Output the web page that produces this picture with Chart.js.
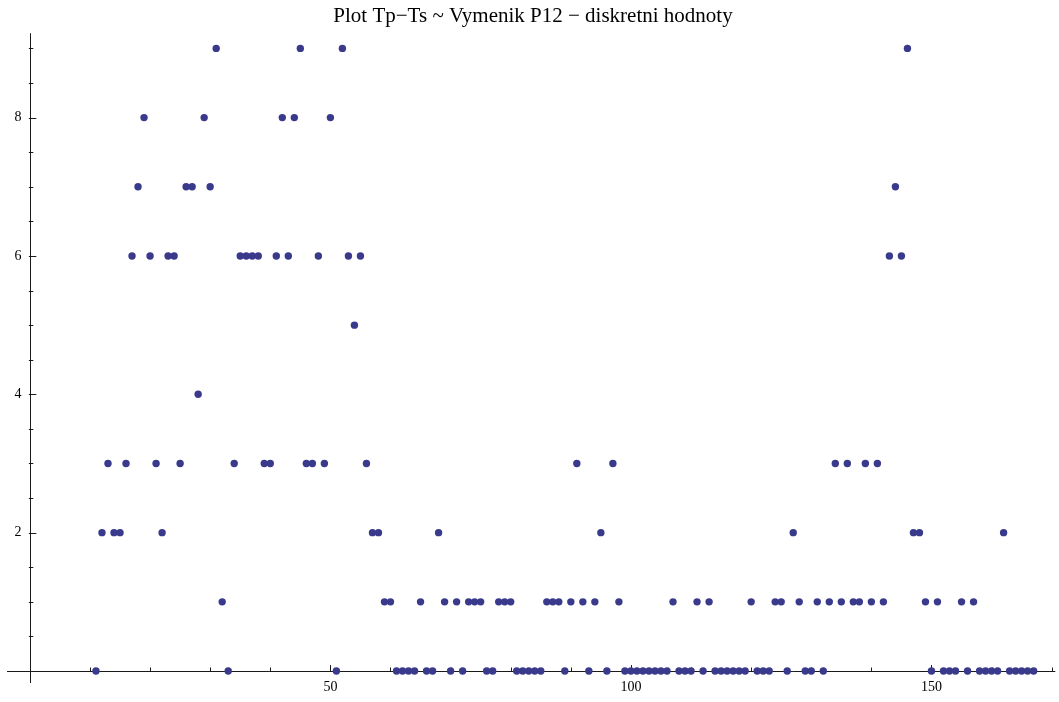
<!DOCTYPE html>
<html>
<head>
<meta charset="utf-8">
<script src="https://cdn.jsdelivr.net/npm/chart.js@4/dist/chart.umd.min.js"></script>
<style>
  html, body { margin: 0; padding: 0; background: #ffffff; }
  #wrap { width: 1059px; height: 702px; }
</style>
</head>
<body>
<div id="wrap"><canvas id="plot" width="1059" height="702"></canvas></div>
<script>
// Sample number (x) and measured Tp−Ts difference (y), one value per sample
const sampleIndex = [
  11, 12, 13, 14, 15, 16, 17, 18, 19, 20, 21, 22, 23, 24, 25, 26, 27, 28, 29, 30,
  31, 32, 33, 34, 35, 36, 37, 38, 39, 40, 41, 42, 43, 44, 45, 46, 47, 48, 49, 50,
  51, 52, 53, 54, 55, 56, 57, 58, 59, 60, 61, 62, 63, 64, 65, 66, 67, 68, 69, 70,
  71, 72, 73, 74, 75, 76, 77, 78, 79, 80, 81, 82, 83, 84, 85, 86, 87, 88, 89, 90,
  91, 92, 93, 94, 95, 96, 97, 98, 99, 100, 101, 102, 103, 104, 105, 106, 107, 108, 109, 110,
  111, 112, 113, 114, 115, 116, 117, 118, 119, 120, 121, 122, 123, 124, 125, 126, 127, 128, 129, 130,
  131, 132, 133, 134, 135, 136, 137, 138, 139, 140, 141, 142, 143, 144, 145, 146, 147, 148, 149, 150,
  151, 152, 153, 154, 155, 156, 157, 158, 159, 160, 161, 162, 163, 164, 165, 166, 167
];
const tpMinusTs = [
  0, 2, 3, 2, 2, 3, 6, 7, 8, 6, 3, 2, 6, 6, 3, 7, 7, 4, 8, 7,
  9, 1, 0, 3, 6, 6, 6, 6, 3, 3, 6, 8, 6, 8, 9, 3, 3, 6, 3, 8,
  0, 9, 6, 5, 6, 3, 2, 2, 1, 1, 0, 0, 0, 0, 1, 0, 0, 2, 1, 0,
  1, 0, 1, 1, 1, 0, 0, 1, 1, 1, 0, 0, 0, 0, 0, 1, 1, 1, 0, 1,
  3, 1, 0, 1, 2, 0, 3, 1, 0, 0, 0, 0, 0, 0, 0, 0, 1, 0, 0, 0,
  1, 0, 1, 0, 0, 0, 0, 0, 0, 1, 0, 0, 0, 1, 1, 0, 2, 1, 0, 0,
  1, 0, 1, 3, 1, 3, 1, 1, 3, 1, 3, 1, 6, 7, 6, 9, 2, 2, 1, 0,
  1, 0, 0, 0, 1, 0, 1, 0, 0, 0, 0, 2, 0, 0, 0, 0, 0
];

// Labelled ticks and the finer unlabelled tick marks on each axis
const xTickLabels = [50, 100, 150];
const yTickLabels = [2, 4, 6, 8];
const xMinorTicks = [10, 20, 30, 40, 60, 70, 80, 90, 110, 120, 130, 140, 160, 170];
const yMinorTicks = [0.5, 1, 1.5, 2.5, 3, 3.5, 4.5, 5, 5.5, 6.5, 7, 7.5, 8.5, 9];

const plotTitle = 'Plot Tp\u2212Ts ~ Vymenik P12 \u2212 diskretni hodnoty';

const points = sampleIndex.map((x, i) => ({ x: x, y: tpMinusTs[i] }));

// Axes crossing at the origin, with tick marks pointing into the plot
const originAxes = {
  id: 'originAxes',
  beforeDatasetsDraw(chart) {
    const { ctx, chartArea: a, scales: { x, y } } = chart;
    const x0 = x.getPixelForValue(0);
    const y0 = y.getPixelForValue(0);
    ctx.save();
    ctx.strokeStyle = '#1a1a1a';
    ctx.lineWidth = 1;
    ctx.beginPath();
    ctx.moveTo(a.left, Math.round(y0) + 0.5);
    ctx.lineTo(a.right, Math.round(y0) + 0.5);
    ctx.moveTo(Math.round(x0) + 0.5, a.top);
    ctx.lineTo(Math.round(x0) + 0.5, a.bottom);
    const xTick = (v, len) => {
      const px = Math.round(x.getPixelForValue(v)) + 0.5;
      ctx.moveTo(px, y0);
      ctx.lineTo(px, y0 - len);
    };
    const yTick = (v, len) => {
      const py = Math.round(y.getPixelForValue(v)) + 0.5;
      ctx.moveTo(x0 - 1, py);
      ctx.lineTo(x0 + len, py);
    };
    xMinorTicks.forEach(v => xTick(v, 3.5));
    xTickLabels.forEach(v => xTick(v, 6));
    yMinorTicks.forEach(v => yTick(v, 3.5));
    yTickLabels.forEach(v => yTick(v, 6.5));
    ctx.stroke();
    ctx.restore();
  }
};

new Chart(document.getElementById('plot'), {
  type: 'scatter',
  data: {
    datasets: [{
      data: points,
      pointRadius: 3.7,
      pointHoverRadius: 3.7,
      pointBackgroundColor: '#3a3a8c',
      pointBorderColor: '#3a3a8c',
      pointBorderWidth: 0
    }]
  },
  options: {
    responsive: false,
    animation: false,
    layout: { padding: { left: 7, right: 0, top: 0, bottom: 19 } },
    plugins: {
      legend: { display: false },
      tooltip: { enabled: false },
      title: {
        display: true,
        text: plotTitle,
        color: '#000000',
        font: { family: 'Liberation Serif', size: 21, weight: 'normal' },
        padding: { top: 4, bottom: 4 }
      }
    },
    scales: {
      x: {
        type: 'linear',
        position: { y: 0 },
        min: -3.8,
        max: 170.6,
        grid: { display: false, drawTicks: false },
        border: { display: false },
        afterBuildTicks: s => { s.ticks = xTickLabels.map(v => ({ value: v })); },
        ticks: {
          padding: 8,
          color: '#000000',
          font: { family: 'Liberation Serif', size: 14 },
          maxRotation: 0,
          autoSkip: false
        }
      },
      y: {
        type: 'linear',
        // labels sit a little to the left of the vertical axis line
        position: { x: -1.4 },
        min: -0.173,
        max: 9.22,
        grid: { display: false, drawTicks: false },
        border: { display: false },
        afterBuildTicks: s => { s.ticks = yTickLabels.map(v => ({ value: v })); },
        ticks: {
          padding: 7,
          color: '#000000',
          font: { family: 'Liberation Serif', size: 14 },
          autoSkip: false
        }
      }
    }
  },
  plugins: [originAxes]
});
</script>
</body>
</html>
